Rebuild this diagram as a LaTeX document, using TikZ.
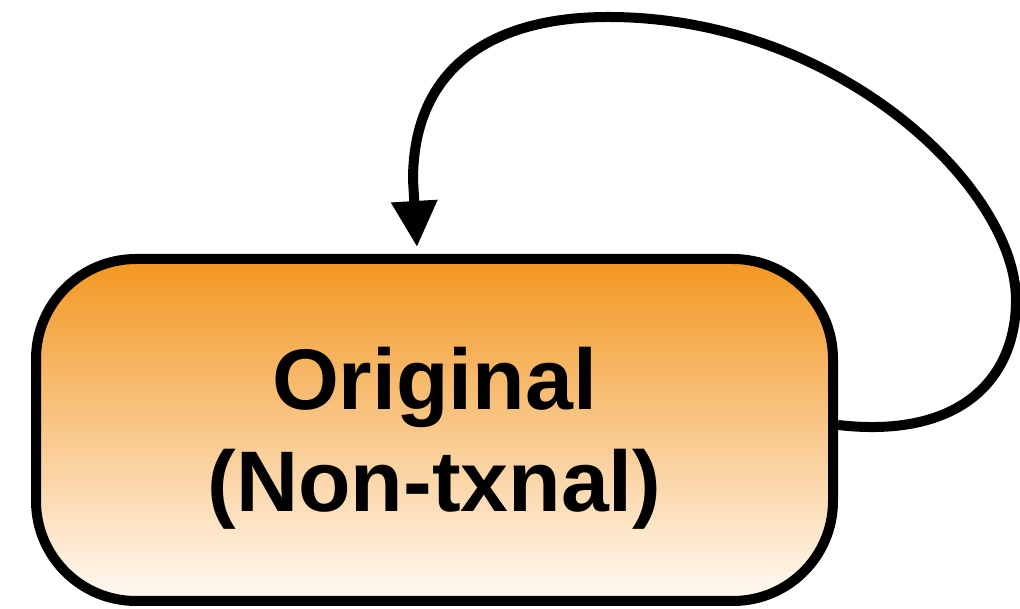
\documentclass[tikz,border=0pt]{standalone}
\usepackage{fontspec}
\setmainfont{Liberation Sans}
\usetikzlibrary{arrows.meta}
\definecolor{boxorange}{RGB}{243,150,32}
\definecolor{boxpale}{RGB}{255,250,244}
\tikzset{
  statebox/.style={rectangle, rounded corners=100pt, draw=black, line width=10pt,
    minimum width=797pt, minimum height=342pt, inner sep=0pt,
    top color=boxorange, bottom color=boxpale},
  statetext/.style={font=\bfseries\fontsize{86}{102}\selectfont, align=center, text=black},
  selfarrow/.style={line width=10pt, -{Triangle[length=46pt,width=44pt]}}
}
\begin{document}
\begin{tikzpicture}[x=1pt,y=1pt]
\useasboundingbox (0,0) rectangle (1020,609);
% the state
\node[statebox] (orig) at (434.5,179) {};
\node[statetext] (origtext) at ([yshift=-8.5pt]orig.center) {Original\\(Non-txnal)};
% self transition: leaves on the right, loops over the top, re-enters from above
\coordinate (loopstart) at ([yshift=5pt]orig.east);
\coordinate (loopend) at ([xshift=-17.5pt,yshift=7pt]orig.north);
\draw[selfarrow] (loopstart) .. controls (960,170) and (1016,230) .. (1016,309)
   .. controls (1016,420) and (840,592) .. (608,592)
   .. controls (490,592) and (413,540) .. (413,429)
   -- (loopend);
\end{tikzpicture}
\end{document}
